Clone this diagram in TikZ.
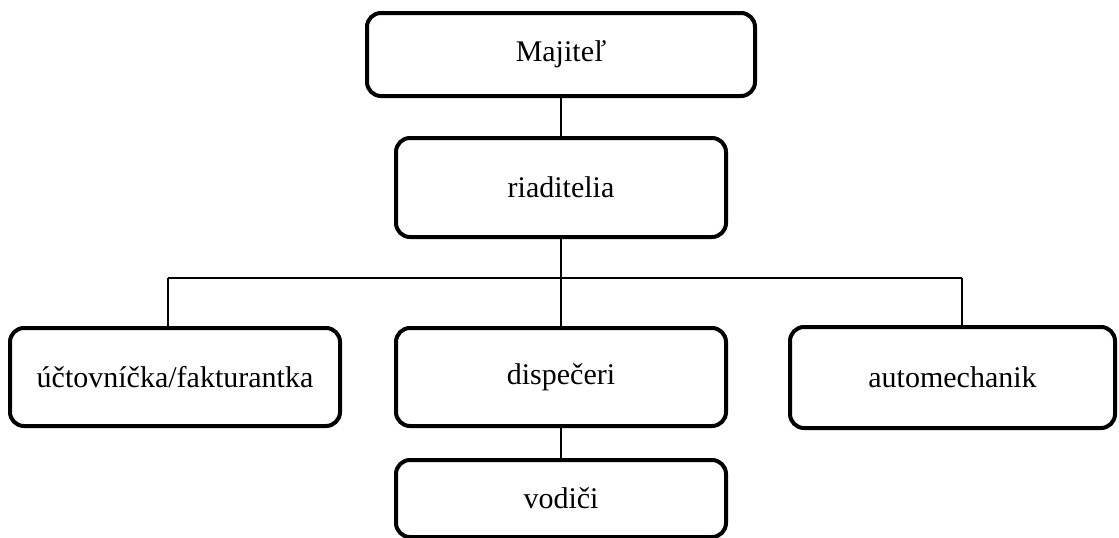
\documentclass[tikz,border=0pt]{standalone}
\usepackage{fontspec}
\setmainfont{Liberation Serif}
\begin{document}
\begin{tikzpicture}[x=1pt, y=-1pt,
  box/.style={draw, line width=4pt, rounded corners=14pt, inner sep=0pt, font=\fontsize{30}{36}\selectfont},
  link/.style={line width=1.2pt}]
\useasboundingbox (0,0) rectangle (1119,538);
\node[box, minimum width=388pt, minimum height=83pt] (majitel) at (561,54.5){Majiteľ};
\node[box, minimum width=330pt, minimum height=99pt] (riaditelia) at (561,187.5){riaditelia};
\node[box, minimum width=330pt, minimum height=98pt] (uctovnicka) at (175,377){účtovníčka/fakturantka};
\node[box, minimum width=330pt, minimum height=98pt] (dispeceri) at (561,377){dispečeri};
\node[box, minimum width=325pt, minimum height=101pt] (automechanik) at (952.5,377.5){automechanik};
\node[box, minimum width=330pt, minimum height=77pt] (vodici) at (561,498.5){vodiči};
\coordinate (busL) at (168,278);
\coordinate (busR) at (962,278);
\draw[link](majitel) -- (riaditelia);
\draw[link](riaditelia) -- (dispeceri);
\draw[link](busL) -- (busR);
\draw[link](busL) -- (busL |- uctovnicka.north);
\draw[link](busR) -- (busR |- automechanik.north);
\draw[link](dispeceri) -- (vodici);
\end{tikzpicture}
\end{document}
